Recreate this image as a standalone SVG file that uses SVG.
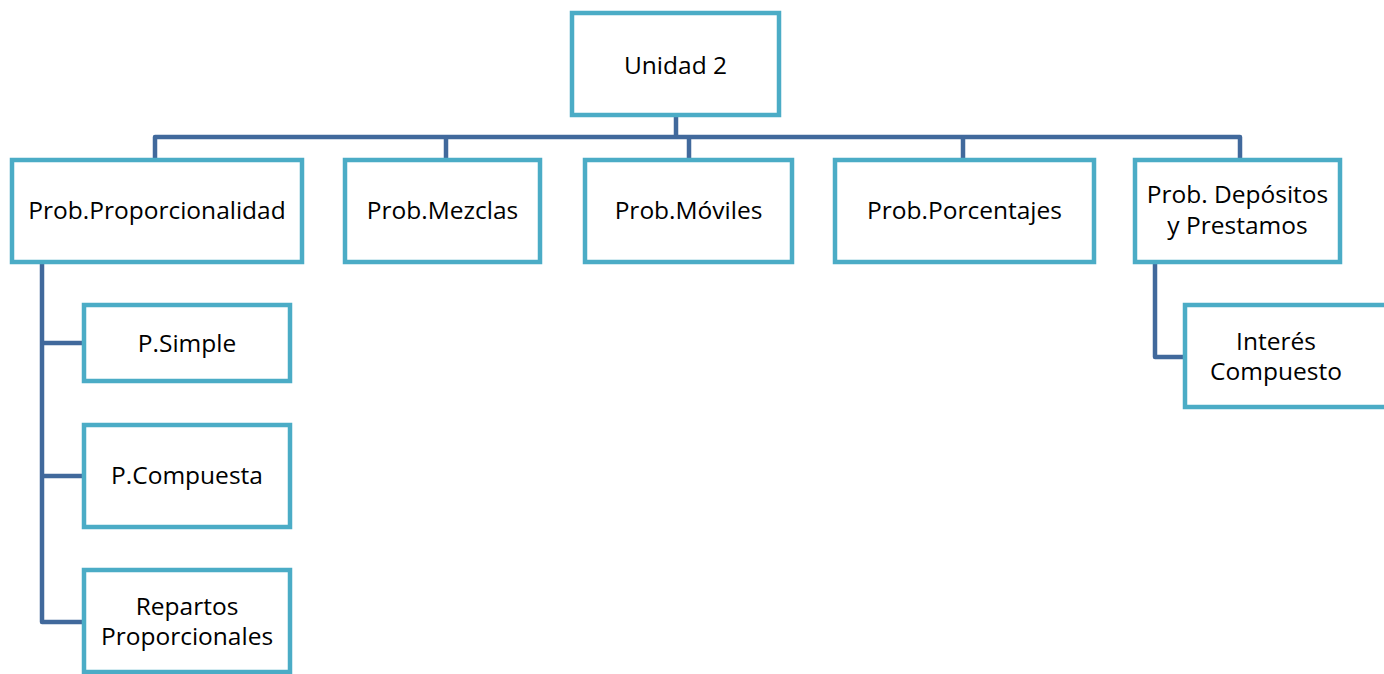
<svg xmlns="http://www.w3.org/2000/svg" width="1384" height="674" viewBox="0 0 1384 674">
<style>
.box{fill:#fff;stroke:#4bacc6;stroke-width:4.5}
.con{fill:none;stroke:#41699c;stroke-width:4.5;stroke-linejoin:round}
text{font-family:"Open Sans","Noto Sans",sans-serif;font-size:24.5px;fill:#000;text-anchor:middle}
</style>
<rect width="1384" height="674" fill="#fff"/>
<g id="connectors">
<path class="con" d="M676 115V137M155 160V137H1240V160M446 137V160M689 137V160M963 137V160"/>
<path class="con" d="M42 262V622H84M42 343H84M42 476H84"/>
<path class="con" d="M1155 262V357H1185"/>
</g>
<g id="n-unidad"><rect class="box" x="572" y="13" width="207" height="102"/><text x="675.5" y="74">Unidad 2</text></g>
<g id="n-prop"><rect class="box" x="12" y="160" width="290" height="102"/><text x="157" y="219">Prob.Proporcionalidad</text></g>
<g id="n-mezclas"><rect class="box" x="345" y="160" width="195" height="102"/><text x="442.5" y="219">Prob.Mezclas</text></g>
<g id="n-moviles"><rect class="box" x="585" y="160" width="207" height="102"/><text x="688.5" y="219">Prob.Móviles</text></g>
<g id="n-porc"><rect class="box" x="835" y="160" width="259" height="102"/><text x="964.5" y="219">Prob.Porcentajes</text></g>
<g id="n-dep"><rect class="box" x="1135" y="160" width="205" height="102"/><text x="1237.5" y="203">Prob. Depósitos</text><text x="1237.5" y="234">y Prestamos</text></g>
<g id="n-simple"><rect class="box" x="84" y="305" width="206" height="76"/><text x="187" y="352">P.Simple</text></g>
<g id="n-compuesta"><rect class="box" x="84" y="425" width="206" height="102"/><text x="187" y="484">P.Compuesta</text></g>
<g id="n-repartos"><rect class="box" x="84" y="570" width="206" height="102"/><text x="187" y="615">Repartos</text><text x="187" y="645">Proporcionales</text></g>
<g id="n-interes"><rect class="box" x="1185" y="305" width="206" height="102"/><text x="1276" y="350">Interés</text><text x="1276" y="380">Compuesto</text></g>
</svg>
